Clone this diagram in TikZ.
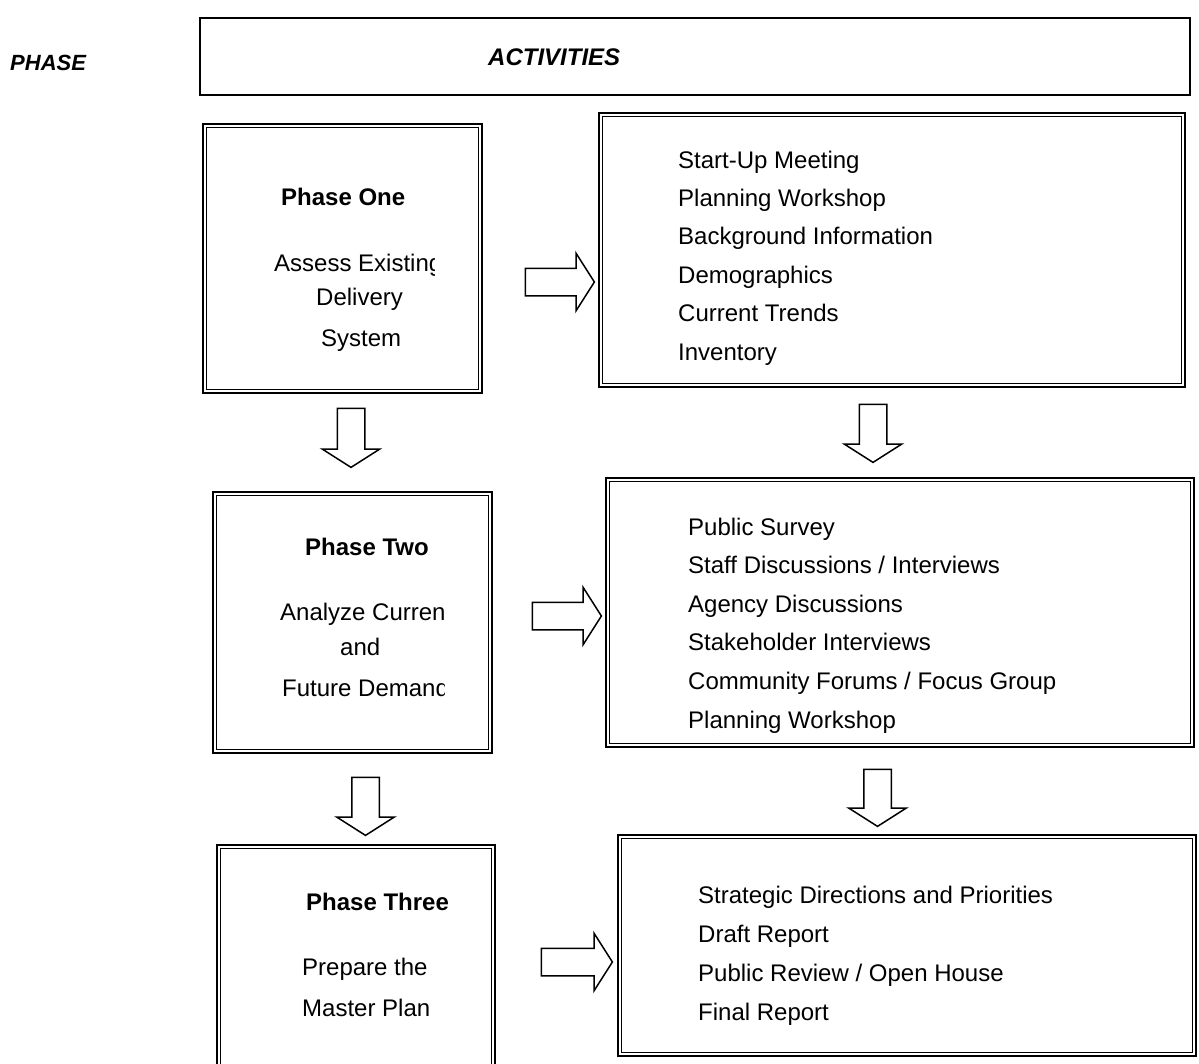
\documentclass[tikz,border=0pt]{standalone}
\usepackage{fontspec}
\setmainfont{Liberation Sans}
\usetikzlibrary{shapes.arrows}
\tikzset{
  box/.style={draw, line width=2.6pt, inner sep=0pt},
  txt/.style={anchor=base west, inner sep=0pt, font=\fontsize{24}{28}\selectfont},
  head/.style={txt, font=\bfseries\fontsize{24}{28}\selectfont},
  blockarrow/.style={single arrow, draw, line width=1.5pt, fill=white, inner xsep=0pt,
    inner ysep=13pt, single arrow head extend=15pt, single arrow tip angle=115, minimum height=#1}
}
\begin{document}
\begin{tikzpicture}[x=1pt,y=-1pt]
\fill[white] (0,0) rectangle (1199,1063);
\useasboundingbox (0,0) rectangle (1199,1063);

\node[txt, font=\bfseries\itshape\fontsize{22}{26}\selectfont] (phase) at (10,70) {PHASE};
\node[draw, line width=1.6pt, minimum width=990pt, minimum height=77pt] (hdr) at (695,56.5) {};
\node[txt, font=\bfseries\itshape\fontsize{24}{28}\selectfont] (act) at (488,65) {ACTIVITIES};

\node[box, minimum width=279pt, minimum height=269pt] (p1) at (342.5,258.5) {};
\node[box, minimum width=586pt, minimum height=274pt] (a1) at (892,250) {};
\node[box, minimum width=279pt, minimum height=261pt] (p2) at (352.5,622.5) {};
\node[box, minimum width=588pt, minimum height=269pt] (a2) at (900,612.5) {};
\node[box, minimum width=278pt, minimum height=225pt] (p3) at (356,957.5) {};
\node[box, minimum width=578pt, minimum height=221pt] (a3) at (907,945.5) {};
\foreach \n in {p1,a1,p2,a2,p3,a3}
  \draw[line width=1pt] ([shift={(5pt,-5pt)}]\n.north west) rectangle ([shift={(-5pt,5pt)}]\n.south east);

\begin{scope}
  \clip (210,130) rectangle (434,390);
  \node[head] (p1t) at (281,205) {Phase One};
  \node[txt] (p1a) at (274,271) {Assess Existing};
  \node[txt] (p1b) at (316,305) {Delivery};
  \node[txt] (p1c) at (321,346) {System};
\end{scope}
\begin{scope}
  \clip (220,500) rectangle (444,745);
  \node[head] (p2t) at (305,555) {Phase Two};
  \node[txt] (p2a) at (280,620) {Analyze Current};
  \node[txt] (p2b) at (340,655) {and};
  \node[txt] (p2c) at (282,696) {Future Demand};
\end{scope}
\node[head] (p3t) at (306,910) {Phase Three};
\node[txt] (p3a) at (302,975) {Prepare the};
\node[txt] (p3b) at (302,1016) {Master Plan};

\foreach \t [count=\i] in {Start-Up Meeting, Planning Workshop, Background Information, Demographics, Current Trends, Inventory}
  \node[txt] (a1-\i) at ({678},{168+38.4*(\i-1)}) {\t};
\foreach \t [count=\i] in {Public Survey, Staff Discussions / Interviews, Agency Discussions, Stakeholder Interviews, Community Forums / Focus Group, Planning Workshop}
  \node[txt] (a2-\i) at ({688},{535+38.6*(\i-1)}) {\t};
\foreach \t [count=\i] in {Strategic Directions and Priorities, Draft Report, Public Review / Open House, Final Report}
  \node[txt] (a3-\i) at ({698},{903+39.3*(\i-1)}) {\t};

\node[blockarrow=69pt] (r1) at (555.5,282) {};
\node[blockarrow=69pt] (r2) at (562.5,616) {};
\node[blockarrow=71pt] (r3) at (572.5,962) {};
\node[blockarrow=59pt, rotate=-90] (d1) at (351,433.5) {};
\node[blockarrow=58pt, rotate=-90] (d2) at (873,429) {};
\node[blockarrow=58pt, rotate=-90] (d3) at (365.5,802) {};
\node[blockarrow=57pt, rotate=-90] (d4) at (877.5,793.5) {};
\end{tikzpicture}
\end{document}
